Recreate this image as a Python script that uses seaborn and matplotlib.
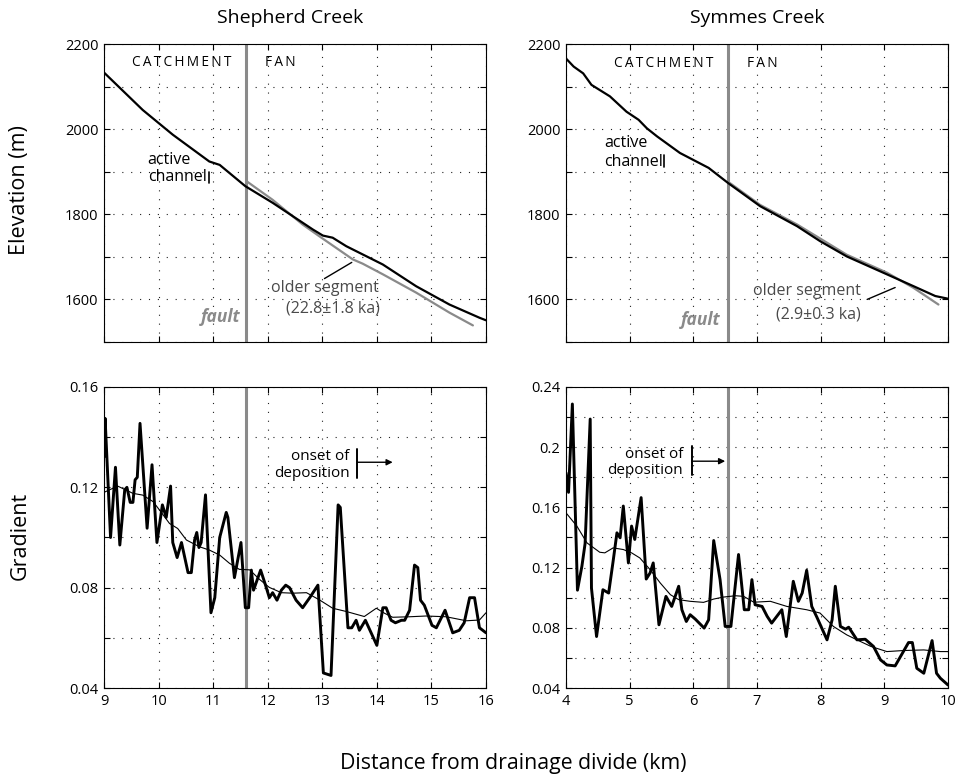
import numpy as np
import matplotlib
matplotlib.use("Agg")
import matplotlib.pyplot as plt
import seaborn as sns

# ---------------- Shepherd Creek ----------------
shep_active_km = [9.0, 9.71, 10.26, 10.93, 11.12, 11.59, 12.09, 12.83, 13.01, 13.19,
                  13.44, 14.11, 14.72, 15.33, 15.88, 16.0]
shep_active_elev = [2133, 2045, 1987, 1924, 1916, 1866, 1827, 1764, 1750, 1745,
                    1725, 1682, 1631, 1588, 1557, 1551]
shep_older_km = [11.62, 12.09, 12.64, 12.95, 13.56, 13.74, 14.11, 14.72, 15.33, 15.76]
shep_older_elev = [1877, 1834, 1776, 1748, 1694, 1684, 1659, 1616, 1569, 1539]

shep_grad_km = [9.0, 9.02, 9.12, 9.21, 9.29, 9.38, 9.42, 9.48, 9.53, 9.57,
                9.61, 9.66, 9.79, 9.88, 9.97, 10.07, 10.14, 10.22, 10.26, 10.34,
                10.42, 10.54, 10.60, 10.66, 10.70, 10.74, 10.78, 10.86, 10.96, 11.03,
                11.12, 11.24, 11.27, 11.39, 11.51, 11.59, 11.65, 11.70, 11.74, 11.87,
                11.96, 12.03, 12.09, 12.17, 12.25, 12.33, 12.40, 12.52, 12.64, 12.77,
                12.92, 13.02, 13.16, 13.29, 13.33, 13.47, 13.54, 13.62, 13.68, 13.79,
                14.0, 14.11, 14.17, 14.26, 14.34, 14.45, 14.51, 14.60, 14.69, 14.75,
                14.80, 14.87, 15.01, 15.09, 15.25, 15.39, 15.51, 15.60, 15.70, 15.79,
                15.88, 16.0]
shep_grad = [0.132, 0.1475, 0.100, 0.128, 0.097, 0.119, 0.120, 0.114, 0.114, 0.123,
             0.124, 0.1455, 0.1037, 0.129, 0.098, 0.113, 0.108, 0.1205, 0.098, 0.092,
             0.098, 0.086, 0.086, 0.099, 0.102, 0.096, 0.098, 0.117, 0.070, 0.076,
             0.100, 0.110, 0.108, 0.084, 0.098, 0.072, 0.072, 0.087, 0.079, 0.087,
             0.081, 0.076, 0.078, 0.075, 0.079, 0.081, 0.080, 0.075, 0.072, 0.076,
             0.081, 0.046, 0.045, 0.113, 0.112, 0.064, 0.064, 0.067, 0.063, 0.067,
             0.057, 0.072, 0.072, 0.067, 0.066, 0.067, 0.067, 0.071, 0.089, 0.088,
             0.075, 0.073, 0.065, 0.064, 0.071, 0.062, 0.063, 0.066, 0.076, 0.076,
             0.064, 0.062]
shep_smooth_km = [9.0, 9.25, 9.53, 9.71, 9.90, 10.05, 10.20, 10.35, 10.51, 10.75,
                  10.93, 11.12, 11.30, 11.48, 11.67, 11.85, 12.03, 12.25, 12.46, 12.71,
                  12.95, 13.19, 13.44, 13.77, 13.99, 14.14, 14.29, 14.60, 14.90, 15.27,
                  15.64, 15.88, 16.0]
shep_smooth = [0.118, 0.1205, 0.1176, 0.1169, 0.1143, 0.110, 0.1056, 0.1036, 0.099, 0.0963,
               0.095, 0.093, 0.0897, 0.0873, 0.0871, 0.0833, 0.0801, 0.078, 0.0778, 0.078,
               0.0751, 0.0718, 0.0705, 0.0685, 0.0718, 0.0698, 0.0682, 0.0684, 0.0687, 0.0684,
               0.0668, 0.0671, 0.070]

# ---------------- Symmes Creek ----------------
sym_active_km = [4.0, 4.12, 4.27, 4.40, 4.69, 4.95, 5.14, 5.27, 5.43, 5.79,
                 6.24, 6.55, 7.05, 7.63, 7.99, 8.41, 9.04, 9.46, 9.80, 9.99]
sym_active_elev = [2166, 2147, 2131, 2104, 2077, 2041, 2022, 2002, 1983, 1944,
                   1909, 1873, 1819, 1772, 1737, 1701, 1659, 1631, 1608, 1602]
sym_older_km = [6.55, 7.05, 7.63, 8.41, 9.04, 9.46, 9.85]
sym_older_elev = [1876, 1822, 1776, 1705, 1663, 1627, 1588]

sym_grad_km = [4.0, 4.04, 4.10, 4.18, 4.25, 4.30, 4.38, 4.40, 4.48, 4.58,
               4.67, 4.74, 4.80, 4.85, 4.90, 4.98, 5.03, 5.08, 5.18, 5.26,
               5.32, 5.37, 5.46, 5.57, 5.66, 5.77, 5.82, 5.89, 5.95, 6.03,
               6.17, 6.24, 6.32, 6.42, 6.50, 6.59, 6.71, 6.80, 6.87, 6.92,
               6.97, 7.08, 7.16, 7.23, 7.39, 7.46, 7.57, 7.65, 7.71, 7.78,
               7.86, 7.94, 8.10, 8.18, 8.23, 8.31, 8.39, 8.44, 8.57, 8.70,
               8.83, 8.94, 9.04, 9.17, 9.38, 9.44, 9.51, 9.62, 9.75, 9.82,
               9.88, 10.0]
sym_grad = [0.183, 0.170, 0.2287, 0.105, 0.121, 0.136, 0.2187, 0.1064, 0.0742, 0.1053,
            0.1031, 0.1242, 0.1431, 0.1398, 0.1609, 0.1231, 0.1476, 0.1387, 0.1665, 0.1124,
            0.1164, 0.1231, 0.0820, 0.1009, 0.0942, 0.1076, 0.0920, 0.0842, 0.0887, 0.0858,
            0.0798, 0.0853, 0.1380, 0.1120, 0.0809, 0.0809, 0.1287, 0.0920, 0.0920, 0.1120,
            0.0953, 0.0942, 0.0876, 0.0831, 0.0920, 0.0742, 0.1109, 0.0976, 0.1031, 0.1182,
            0.0942, 0.0871, 0.0720, 0.0853, 0.1076, 0.0809, 0.0791, 0.0804, 0.0720, 0.0724,
            0.0676, 0.0587, 0.0553, 0.0547, 0.0702, 0.0702, 0.0531, 0.0498, 0.0715, 0.0498,
            0.0465, 0.042]
sym_smooth_km = [4.0, 4.17, 4.33, 4.53, 4.61, 4.74, 4.90, 5.03, 5.16, 5.32,
                 5.48, 5.64, 5.77, 5.95, 6.16, 6.32, 6.47, 6.66, 6.79, 6.95,
                 7.21, 7.47, 7.78, 7.99, 8.20, 8.41, 8.57, 8.79, 9.04, 9.30,
                 9.62, 9.88, 10.0]
sym_smooth = [0.1564, 0.1476, 0.1364, 0.1302, 0.1298, 0.1331, 0.1320, 0.1298, 0.1264, 0.1187,
              0.1098, 0.1020, 0.0987, 0.0976, 0.0969, 0.0991, 0.1004, 0.1013, 0.1009, 0.0970,
              0.0976, 0.0942, 0.0920, 0.0898, 0.0809, 0.0753, 0.0720, 0.0676, 0.0642, 0.0649,
              0.0653, 0.0642, 0.0642]

fault_km = {"shep": 11.6, "sym": 6.55}

elev_ticks = [1500, 1600, 1700, 1800, 1900, 2000, 2100, 2200]
elev_labels = ["", "1600", "", "1800", "", "2000", "", "2200"]
shep_grad_ticks = [0.04, 0.06, 0.08, 0.10, 0.12, 0.14, 0.16]
shep_grad_labels = ["0.04", "", "0.08", "", "0.12", "", "0.16"]
sym_grad_ticks = [0.04, 0.06, 0.08, 0.10, 0.12, 0.14, 0.16, 0.18, 0.20, 0.22, 0.24]
sym_grad_labels = ["0.04", "", "0.08", "", "0.12", "", "0.16", "", "0.2", "", "0.24"]
shep_x_ticks = [9, 10, 11, 12, 13, 14, 15, 16]
sym_x_ticks = [4, 5, 6, 7, 8, 9, 10]

# ---------------- styling ----------------
sns.set_theme(style="ticks")
plt.rcParams["font.family"] = ["Open Sans", "DejaVu Sans"]
plt.rcParams["axes.linewidth"] = 0.8
plt.rcParams["axes.edgecolor"] = "black"
plt.rcParams["text.color"] = "black"
plt.rcParams["axes.labelcolor"] = "black"
plt.rcParams["xtick.color"] = "black"
plt.rcParams["ytick.color"] = "black"

GRAY = "#8a8a8a"
TEXT_GRAY = "#4a4a4a"
TICK_FS = 10.5

W, H = 956, 778
fig = plt.figure(figsize=(W / 100, H / 100), dpi=100)
fig.patch.set_facecolor("white")


def box(l, t, r, b):
    return [l / W, 1 - b / H, (r - l) / W, (b - t) / H]


ax_tl = fig.add_axes(box(104, 44, 486, 342))
ax_tr = fig.add_axes(box(566, 44, 948, 342))
ax_bl = fig.add_axes(box(104, 387, 486, 688))
ax_br = fig.add_axes(box(566, 387, 948, 688))


def style_axes(ax, xticks, xlim, yticks, ylabels, ylim, show_x):
    ax.set_xlim(*xlim)
    ax.set_ylim(*ylim)
    ax.set_xticks(xticks)
    ax.set_xticklabels([str(t) for t in xticks] if show_x else [""] * len(xticks))
    ax.set_yticks(yticks)
    ax.set_yticklabels(ylabels)
    ax.tick_params(direction="in", length=4, width=0.8, top=True, right=True,
                   labelsize=TICK_FS, colors="black", labelcolor="black", pad=4)
    ax.grid(True, color="#222222", linestyle=(0, (1, 7)), linewidth=0.8)
    ax.set_axisbelow(True)
    for s in ax.spines.values():
        s.set_visible(True)
        s.set_color("black")
        s.set_linewidth(0.8)
    ax.set_xlabel("")
    ax.set_ylabel("")


def draw_line(ax, x, y, color, lw, z=3):
    sns.lineplot(x=x, y=y, ax=ax, color=color, linewidth=lw, sort=False,
                 estimator=None, zorder=z)


LABEL_FS = 11.5
sp = "\u2009"

# ---- Top left: Shepherd elevation ----
ax = ax_tl
ax.axvline(fault_km["shep"], color=GRAY, lw=2.2, zorder=2)
draw_line(ax, shep_older_km, shep_older_elev, GRAY, 1.6, z=3)
draw_line(ax, shep_active_km, shep_active_elev, "black", 1.6, z=4)
style_axes(ax, shep_x_ticks, (9, 16), elev_ticks, elev_labels, (1500, 2200), False)
ax.text(10.43, 2157, sp.join("CATCHMENT"), ha="center", va="center", fontsize=9.8)
ax.text(12.23, 2157, sp.join("FAN"), ha="center", va="center", fontsize=9.8)
ax.text(9.80, 1928, "active", ha="left", va="center", fontsize=LABEL_FS)
ax.text(9.80, 1888, "channel", ha="left", va="center", fontsize=LABEL_FS)
ax.plot([10.92, 10.92], [1874, 1900], color="black", lw=1.2)
ax.text(13.05, 1628, "older segment", ha="center", va="center", fontsize=LABEL_FS, color=TEXT_GRAY)
ax.text(13.19, 1579, "(22.8\u00b11.8 ka)", ha="center", va="center", fontsize=LABEL_FS, color=TEXT_GRAY)
ax.plot([13.04, 13.54], [1649, 1687], color="black", lw=1.0)
ax.text(11.50, 1558, "fault", ha="right", va="center", fontsize=12.5, color=GRAY,
        fontweight="bold", fontstyle="italic")

# ---- Top right: Symmes elevation ----
ax = ax_tr
ax.axvline(fault_km["sym"], color=GRAY, lw=2.2, zorder=2)
draw_line(ax, sym_older_km, sym_older_elev, GRAY, 1.6, z=3)
draw_line(ax, sym_active_km, sym_active_elev, "black", 1.6, z=4)
style_axes(ax, sym_x_ticks, (4, 10), elev_ticks, elev_labels, (1500, 2200), False)
ax.text(5.54, 2155, sp.join("CATCHMENT"), ha="center", va="center", fontsize=9.8)
ax.text(7.08, 2155, sp.join("FAN"), ha="center", va="center", fontsize=9.8)
ax.text(4.60, 1968, "active", ha="left", va="center", fontsize=LABEL_FS)
ax.text(4.60, 1923, "channel", ha="left", va="center", fontsize=LABEL_FS)
ax.plot([5.54, 5.54], [1912, 1940], color="black", lw=1.2)
ax.text(7.79, 1619, "older segment", ha="center", va="center", fontsize=LABEL_FS, color=TEXT_GRAY)
ax.text(7.96, 1565, "(2.9\u00b10.3 ka)", ha="center", va="center", fontsize=LABEL_FS, color=TEXT_GRAY)
ax.plot([8.73, 9.17], [1600, 1628], color="black", lw=1.0)
ax.text(6.42, 1551, "fault", ha="right", va="center", fontsize=12.5, color=GRAY,
        fontweight="bold", fontstyle="italic")

# ---- Bottom left: Shepherd gradient ----
ax = ax_bl
ax.axvline(fault_km["shep"], color=GRAY, lw=2.2, zorder=2)
draw_line(ax, shep_smooth_km, shep_smooth, "black", 0.8, z=3)
draw_line(ax, shep_grad_km, shep_grad, "black", 2.1, z=4)
style_axes(ax, shep_x_ticks, (9, 16), shep_grad_ticks, shep_grad_labels, (0.04, 0.16), True)
ax.text(13.50, 0.1321, "onset of", ha="right", va="center", fontsize=11)
ax.text(13.50, 0.1257, "deposition", ha="right", va="center", fontsize=11)
ax.plot([13.64, 13.64], [0.1237, 0.1353], color="black", lw=1.4)
ax.annotate("", xy=(14.29, 0.1300), xytext=(13.64, 0.1300),
            arrowprops=dict(arrowstyle="-|>", color="black", lw=1.0, mutation_scale=9,
                            shrinkA=0, shrinkB=0))

# ---- Bottom right: Symmes gradient ----
ax = ax_br
ax.axvline(fault_km["sym"], color=GRAY, lw=2.2, zorder=2)
draw_line(ax, sym_smooth_km, sym_smooth, "black", 0.8, z=3)
draw_line(ax, sym_grad_km, sym_grad, "black", 2.1, z=4)
style_axes(ax, sym_x_ticks, (4, 10), sym_grad_ticks, sym_grad_labels, (0.04, 0.24), True)
ax.text(5.84, 0.1953, "onset of", ha="right", va="center", fontsize=11)
ax.text(5.84, 0.1847, "deposition", ha="right", va="center", fontsize=11)
ax.plot([5.98, 5.98], [0.1813, 0.2007], color="black", lw=1.4)
ax.annotate("", xy=(6.50, 0.1907), xytext=(5.98, 0.1907),
            arrowprops=dict(arrowstyle="-|>", color="black", lw=1.0, mutation_scale=9,
                            shrinkA=0, shrinkB=0))

# ---- titles and shared labels ----
fig.text(290 / W, 1 - 18 / H, "Shepherd Creek", ha="center", va="center", fontsize=14)
fig.text(757 / W, 1 - 18 / H, "Symmes Creek", ha="center", va="center", fontsize=14)
fig.text(20 / W, 1 - 190 / H, "Elevation (m)", rotation=90, ha="center", va="center", fontsize=15.5)
fig.text(20 / W, 1 - 536 / H, "Gradient", rotation=90, ha="center", va="center", fontsize=15.5)
fig.text(513 / W, 1 - 763 / H, "Distance from drainage divide (km)", ha="center", va="center",
         fontsize=15.3)

fig.savefig("out.png", dpi=100, facecolor="white")
